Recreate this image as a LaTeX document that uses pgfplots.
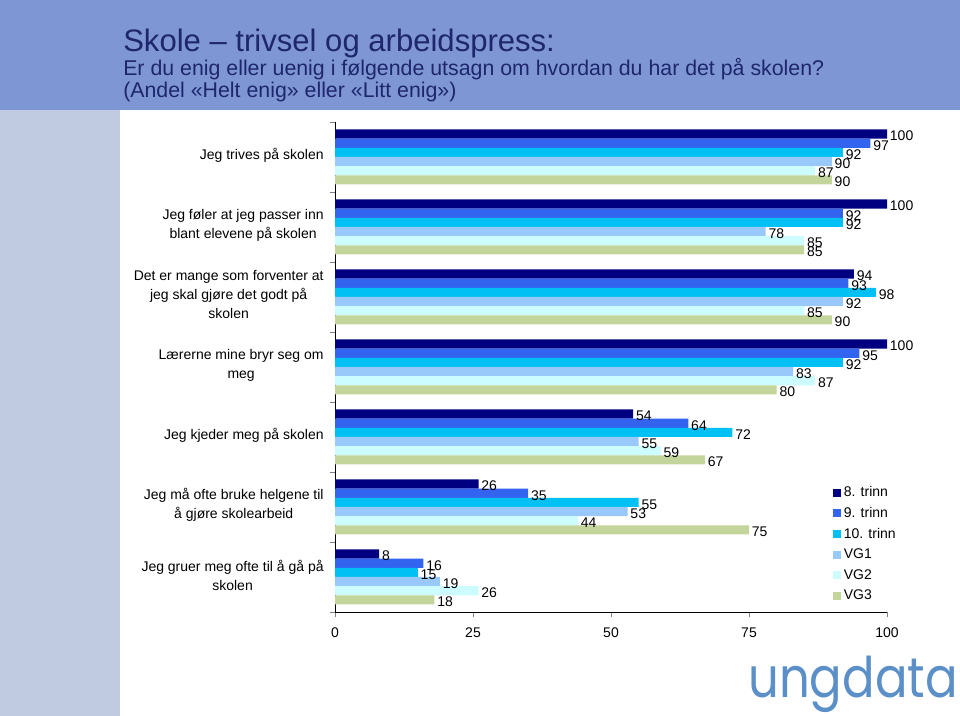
\documentclass[border=0pt]{standalone}
\usepackage{pgfplots}
\pgfplotsset{compat=1.18}
\usepackage{fontspec}
\setmainfont{Liberation Sans}
\newfontfamily\logofont{Poppins}
\definecolor{c1}{HTML}{000080}
\definecolor{c2}{HTML}{3264F0}
\definecolor{c3}{HTML}{00C0F4}
\definecolor{c4}{HTML}{99C8FA}
\definecolor{c5}{HTML}{CCFCFF}
\definecolor{c6}{HTML}{C4D59C}
\definecolor{banner}{HTML}{7F96D4}
\definecolor{strip}{HTML}{C0CAE0}
\definecolor{titlecol}{HTML}{1E266C}
\definecolor{logocol}{HTML}{5B8FC8}
\begin{document}
\begin{tikzpicture}[x=0.75pt,y=0.75pt]
\useasboundingbox (0,0) rectangle (960,716);
\fill[white] (0,0) rectangle (960,716);
\fill[banner] (0,606) rectangle (960,716);
\fill[strip] (0,0) rectangle (120,606);
\node[anchor=base west, text=titlecol, font=\fontsize{23.3}{26}\selectfont, inner sep=0pt] at (123,664) {Skole – trivsel og arbeidspress:};
\node[anchor=base west, text=titlecol, font=\fontsize{16}{18}\selectfont, inner sep=0pt] at (123,640) {Er du enig eller uenig i følgende utsagn om hvordan du har det på skolen?};
\node[anchor=base west, text=titlecol, font=\fontsize{16}{18}\selectfont, inner sep=0pt] at (123,618) {(Andel «Helt enig» eller «Litt enig»)};
\node[anchor=base east, text=logocol, font=\logofont\fontsize{42}{42}\selectfont, inner sep=0pt] at (958,18) {\scalebox{0.86}[1]{ungdata}};
\begin{axis}[
  at={(251.25pt,78pt)}, anchor=south west,
  scale only axis, width=414pt, height=367.5pt,
  xbar, bar width=6.875pt,
  xmin=0, xmax=100, ymin=-0.5, ymax=6.5,
  axis x line*=bottom, axis y line*=left, axis line style={-},
  tick align=outside, major tick length=4pt,
  xtick={0,25,50,75,100},
  ytick={-0.5,0.5,1.5,2.5,3.5,4.5,5.5,6.5},
  yticklabels={,,,,,,,,},
  extra y ticks={0,1,2,3,4,5,6},
  extra y tick labels={{Jeg gruer meg ofte til å gå på\\skolen},{Jeg må ofte bruke helgene til\\å gjøre skolearbeid},{Jeg kjeder meg på skolen},{Lærerne mine bryr seg om\\meg},{Det er mange som forventer at\\jeg skal gjøre det godt på\\skolen},{Jeg føler at jeg passer inn\\blant elevene på skolen},{Jeg trives på skolen}},
  extra y tick style={major tick length=0pt},
  y tick label style={align=center, font=\fontsize{10.5}{14.25}\selectfont, xshift=-5pt, yshift=1.5pt},
  x tick label style={font=\fontsize{10.5}{12}\selectfont, yshift=-4pt},
  /pgf/number format/assume math mode=true,
  nodes near coords,
  every node near coord/.append style={font=\fontsize{10.5}{12}\selectfont, anchor=west, yshift=-1.5pt, inner sep=2pt},
  legend style={at={(0.902,0.262)}, anchor=north west, draw=none, fill=none, font=\fontsize{10.5}{12}\selectfont, row sep=2.5pt, inner sep=0pt},
  legend cell align=left,
  legend image code/.code={\fill[#1] (0pt,-3pt) rectangle (6pt,3pt);},
]
\addplot[fill=c1, draw=none, bar shift=17.19pt] coordinates {(8,0) (26,1) (54,2) (100,3) (94,4) (100,5) (100,6)};
\addplot[fill=c2, draw=none, bar shift=10.31pt] coordinates {(16,0) (35,1) (64,2) (95,3) (93,4) (92,5) (97,6)};
\addplot[fill=c3, draw=none, bar shift=3.44pt] coordinates {(15,0) (55,1) (72,2) (92,3) (98,4) (92,5) (92,6)};
\addplot[fill=c4, draw=none, bar shift=-3.44pt] coordinates {(19,0) (53,1) (55,2) (83,3) (92,4) (78,5) (90,6)};
\addplot[fill=c5, draw=none, bar shift=-10.31pt] coordinates {(26,0) (44,1) (59,2) (87,3) (85,4) (85,5) (87,6)};
\addplot[fill=c6, draw=none, bar shift=-17.19pt] coordinates {(18,0) (75,1) (67,2) (80,3) (90,4) (85,5) (90,6)};
\legend{8. trinn,9. trinn,10. trinn,VG1,VG2,VG3}
\end{axis}
\end{tikzpicture}
\end{document}
